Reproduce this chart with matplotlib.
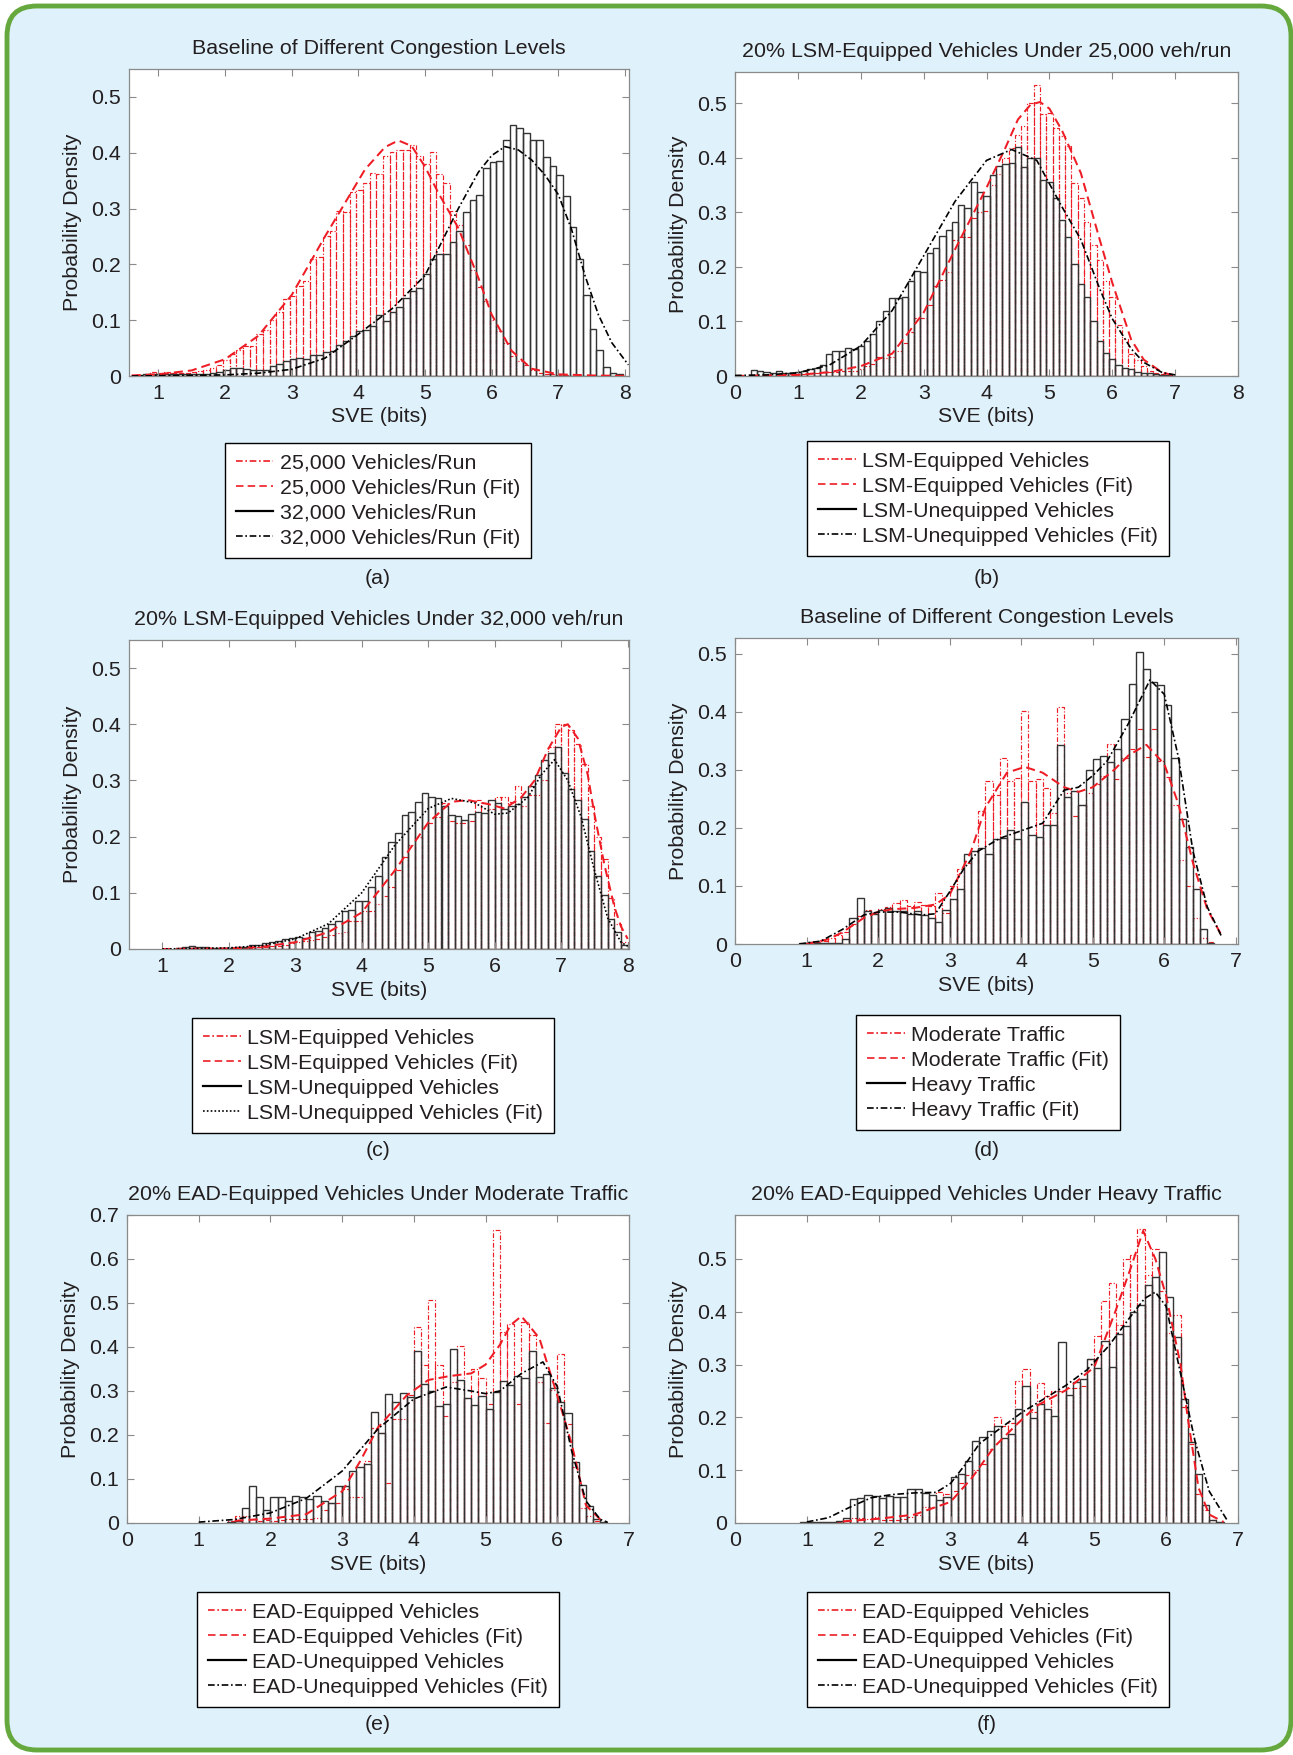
import numpy as np
import matplotlib
matplotlib.use("Agg")
import matplotlib.pyplot as plt
from matplotlib.lines import Line2D
from matplotlib.patches import FancyBboxPatch

plt.rcParams['font.family'] = ['Liberation Sans', 'DejaVu Sans']
plt.rcParams['font.size'] = 15.4

BIN_W = 0.1
FS = 15.4

# ---------------- (a) baseline, 25,000 vs 32,000 veh/run ----------------
a_red_start = 0.67
a_red = [0.002, 0.004, 0.007, 0.006, 0.007, 0.006, 0.005, 0.006, 0.007, 0.009,
         0.011, 0.014, 0.02, 0.028, 0.04, 0.046, 0.053, 0.054, 0.076, 0.082,
         0.1, 0.114, 0.138, 0.144, 0.161, 0.171, 0.209, 0.213, 0.25, 0.259,
         0.296, 0.294, 0.33, 0.333, 0.346, 0.364, 0.362, 0.395, 0.402, 0.405,
         0.405, 0.414, 0.395, 0.38, 0.402, 0.362, 0.345, 0.296, 0.27, 0.235,
         0.19, 0.16, 0.134, 0.1, 0.08, 0.06, 0.035, 0.027, 0.02, 0.01,
         0.006, 0.004, 0.003, 0.002, 0.001]
a_red_fit_x = [0.6, 1.0, 1.5, 2.0, 2.5, 3.0, 3.5, 3.8, 4.1, 4.4, 4.6, 4.8, 5.0, 5.2,
               5.5, 5.8, 6.0, 6.3, 6.6, 7.0, 7.5, 8.05]
a_red_fit_y = [0.001, 0.003, 0.01, 0.03, 0.072, 0.145, 0.25, 0.31, 0.37, 0.41, 0.422,
               0.412, 0.375, 0.328, 0.265, 0.176, 0.11, 0.045, 0.013, 0.003, 0.001, 0.0]
a_blk_start = 0.67
a_blk = [0.002, 0.003, 0.004, 0.004, 0.003, 0.003, 0.004, 0.003, 0.003, 0.004,
         0.004, 0.005, 0.007, 0.011, 0.014, 0.015, 0.012, 0.011, 0.011, 0.011,
         0.018, 0.022, 0.027, 0.03, 0.033, 0.03, 0.037, 0.037, 0.043, 0.045,
         0.055, 0.062, 0.071, 0.08, 0.082, 0.09, 0.11, 0.098, 0.115, 0.123,
         0.14, 0.153, 0.158, 0.183, 0.21, 0.218, 0.218, 0.24, 0.26, 0.293,
         0.315, 0.325, 0.372, 0.383, 0.385, 0.422, 0.45, 0.444, 0.435, 0.423,
         0.423, 0.393, 0.377, 0.36, 0.322, 0.267, 0.21, 0.145, 0.085, 0.047,
         0.017, 0.006, 0.003]
a_blk_fit_x = [0.6, 1.5, 2.0, 2.5, 3.0, 3.5, 4.0, 4.5, 5.0, 5.5, 5.8, 6.0, 6.2, 6.4,
               6.6, 6.8, 7.0, 7.2, 7.4, 7.6, 7.8, 8.05]
a_blk_fit_y = [0.0, 0.001, 0.002, 0.005, 0.012, 0.032, 0.075, 0.12, 0.18, 0.30, 0.365,
               0.395, 0.411, 0.405, 0.387, 0.36, 0.325, 0.262, 0.18, 0.11, 0.06, 0.02]

# ---------------- (b) 20% LSM, 25,000 veh/run ----------------
b_red_start = 0.65
b_red = [0.002, 0.003, 0.004, 0.003, 0.004, 0.005, 0.006, 0.007, 0.008, 0.008,
         0.01, 0.009, 0.01, 0.012, 0.018, 0.022, 0.035, 0.033, 0.034, 0.045,
         0.06, 0.08, 0.107, 0.107, 0.13, 0.165, 0.175, 0.19, 0.25, 0.255,
         0.255, 0.29, 0.30, 0.302, 0.35, 0.37, 0.40, 0.418, 0.442, 0.458,
         0.50, 0.534, 0.48, 0.482, 0.454, 0.44, 0.422, 0.354, 0.327, 0.283,
         0.24, 0.213, 0.174, 0.145, 0.093, 0.067, 0.04, 0.03, 0.018, 0.009,
         0.005, 0.003, 0.001]
b_red_fit_x = [0.0, 1.0, 1.5, 2.0, 2.5, 3.0, 3.5, 4.0, 4.3, 4.5, 4.7, 4.85, 5.0, 5.2,
               5.5, 5.8, 6.0, 6.3, 6.5, 6.8, 7.0]
b_red_fit_y = [0.0, 0.002, 0.007, 0.018, 0.041, 0.116, 0.232, 0.345, 0.418, 0.47, 0.497,
               0.502, 0.49, 0.45, 0.372, 0.25, 0.171, 0.067, 0.03, 0.006, 0.001]
b_blk_start = 0.25
b_blk = [0.011, 0.009, 0.007, 0.006, 0.009, 0.005, 0.005, 0.007, 0.01, 0.013,
         0.014, 0.02, 0.04, 0.045, 0.045, 0.052, 0.05, 0.055, 0.065, 0.077,
         0.1, 0.12, 0.142, 0.143, 0.145, 0.174, 0.193, 0.19, 0.225, 0.235,
         0.256, 0.268, 0.283, 0.313, 0.308, 0.356, 0.338, 0.33, 0.368, 0.385,
         0.389, 0.391, 0.42, 0.383, 0.399, 0.40, 0.36, 0.355, 0.327, 0.286,
         0.255, 0.205, 0.168, 0.145, 0.1, 0.065, 0.042, 0.032, 0.02, 0.015,
         0.012, 0.008, 0.006, 0.005, 0.003, 0.002, 0.001]
b_blk_fit_x = [0.0, 0.5, 1.0, 1.5, 2.0, 2.5, 3.0, 3.5, 4.0, 4.4, 4.8, 5.2, 5.5, 5.8,
               6.0, 6.3, 6.5, 6.8, 7.0]
b_blk_fit_y = [0.001, 0.002, 0.006, 0.02, 0.055, 0.12, 0.22, 0.32, 0.395, 0.415, 0.395,
               0.31, 0.25, 0.16, 0.105, 0.05, 0.025, 0.006, 0.002]

# ---------------- (c) 20% LSM, 32,000 veh/run ----------------
c_red_start = 2.0
c_red = [0.001, 0.001, 0.002, 0.002, 0.003, 0.004, 0.005, 0.006, 0.008, 0.01,
         0.012, 0.014, 0.016, 0.018, 0.022, 0.025, 0.028, 0.03, 0.05, 0.05,
         0.067, 0.068, 0.08, 0.094, 0.11, 0.14, 0.163, 0.186, 0.2, 0.22,
         0.225, 0.235, 0.26, 0.228, 0.225, 0.225, 0.228, 0.265, 0.26, 0.25,
         0.27, 0.27, 0.262, 0.29, 0.255, 0.275, 0.275, 0.30, 0.36, 0.40,
         0.40, 0.39, 0.365, 0.33, 0.255, 0.2, 0.16, 0.09, 0.045, 0.013]
c_red_fit_x = [1.0, 2.0, 2.5, 3.0, 3.5, 4.0, 4.5, 5.0, 5.35, 5.6, 5.9, 6.15, 6.4, 6.6,
               6.8, 7.0, 7.1, 7.25, 7.4, 7.5, 7.65, 7.8, 7.9, 8.0]
c_red_fit_y = [0.0, 0.001, 0.004, 0.012, 0.03, 0.065, 0.14, 0.225, 0.262, 0.265, 0.258,
               0.25, 0.27, 0.3, 0.355, 0.395, 0.40, 0.375, 0.31, 0.24, 0.15, 0.075,
               0.04, 0.018]
c_blk_start = 1.2
c_blk = [0.002, 0.004, 0.006, 0.003, 0.003, 0.002, 0.002, 0.001, 0.002, 0.003,
         0.004, 0.008, 0.007, 0.01, 0.012, 0.014, 0.017, 0.02, 0.022, 0.02,
         0.03, 0.032, 0.037, 0.045, 0.05, 0.067, 0.07, 0.085, 0.086, 0.11,
         0.13, 0.163, 0.19, 0.207, 0.238, 0.243, 0.262, 0.278, 0.27, 0.268,
         0.255, 0.238, 0.236, 0.229, 0.24, 0.243, 0.242, 0.266, 0.26, 0.25,
         0.255, 0.258, 0.27, 0.29, 0.31, 0.336, 0.348, 0.36, 0.313, 0.284,
         0.265, 0.232, 0.175, 0.13, 0.097, 0.054, 0.03, 0.008]
c_blk_fit_x = [1.0, 2.0, 2.5, 3.0, 3.5, 4.0, 4.5, 5.0, 5.35, 5.7, 6.0, 6.2, 6.5, 6.7,
               6.9, 7.1, 7.3, 7.5, 7.7, 7.9, 8.0]
c_blk_fit_y = [0.0, 0.002, 0.006, 0.018, 0.045, 0.1, 0.185, 0.25, 0.268, 0.26, 0.24,
               0.242, 0.27, 0.31, 0.337, 0.30, 0.235, 0.14, 0.055, 0.012, 0.005]

# ---------------- (d) baseline, moderate vs heavy ----------------
d_red_start = 1.0
d_red = [0.002, 0.004, 0.006, 0.01, 0.015, 0.02, 0.035, 0.048, 0.058, 0.055,
         0.06, 0.063, 0.07, 0.075, 0.065, 0.073, 0.068, 0.065, 0.088, 0.053,
         0.1, 0.13, 0.14, 0.16, 0.229, 0.281, 0.257, 0.32, 0.28, 0.286,
         0.401, 0.281, 0.285, 0.269, 0.225, 0.408, 0.26, 0.22, 0.24, 0.26,
         0.275, 0.29, 0.345, 0.285, 0.32, 0.335, 0.37, 0.322, 0.37, 0.315,
         0.288, 0.24, 0.145, 0.1, 0.045, 0.01, 0.003]
d_red_fit_x = [1.0, 1.3, 1.5, 1.8, 2.0, 2.2, 2.5, 2.8, 3.0, 3.3, 3.5, 3.8, 4.05, 4.3,
               4.6, 4.8, 5.0, 5.3, 5.5, 5.75, 6.0, 6.2, 6.4, 6.6, 6.8]
d_red_fit_y = [0.0, 0.008, 0.02, 0.045, 0.055, 0.06, 0.062, 0.068, 0.085, 0.16, 0.235,
               0.295, 0.305, 0.295, 0.27, 0.262, 0.27, 0.3, 0.325, 0.343, 0.31, 0.24,
               0.14, 0.06, 0.015]
d_blk_start = 0.9
d_blk = [0.002, 0.003, 0.002, 0.001, 0.002, 0.002, 0.008, 0.045, 0.08, 0.057,
         0.052, 0.058, 0.062, 0.057, 0.056, 0.052, 0.057, 0.05, 0.045, 0.038,
         0.058, 0.078, 0.095, 0.155, 0.16, 0.165, 0.155, 0.18, 0.183, 0.197,
         0.18, 0.245, 0.187, 0.185, 0.205, 0.205, 0.343, 0.254, 0.264, 0.239,
         0.3, 0.319, 0.324, 0.314, 0.335, 0.387, 0.447, 0.503, 0.474, 0.451,
         0.446, 0.411, 0.32, 0.216, 0.167, 0.094, 0.026, 0.002]
d_blk_fit_x = [0.9, 1.2, 1.5, 1.8, 2.0, 2.3, 2.6, 2.8, 3.0, 3.2, 3.4, 3.7, 4.0, 4.3,
               4.6, 4.8, 5.0, 5.2, 5.5, 5.8, 6.0, 6.2, 6.4, 6.6, 6.8]
d_blk_fit_y = [0.0, 0.005, 0.025, 0.05, 0.055, 0.055, 0.05, 0.052, 0.09, 0.13, 0.16,
               0.182, 0.195, 0.208, 0.265, 0.27, 0.29, 0.315, 0.38, 0.455, 0.43, 0.32,
               0.16, 0.064, 0.013]

# ---------------- (e) 20% EAD, moderate traffic ----------------
e_red_start = 1.4
e_red = [0.005, 0.015, 0.015, 0.008, 0.005, 0.006, 0.005, 0.006, 0.008, 0.01,
         0.008, 0.008, 0.012, 0.03, 0.045, 0.045, 0.078, 0.06, 0.06, 0.14,
         0.216, 0.205, 0.09, 0.236, 0.236, 0.29, 0.446, 0.358, 0.507, 0.358,
         0.243, 0.32, 0.402, 0.285, 0.35, 0.33, 0.27, 0.665, 0.434, 0.453,
         0.27, 0.457, 0.427, 0.32, 0.228, 0.303, 0.385, 0.226, 0.128, 0.035,
         0.015, 0.005]
e_red_fit_x = [1.5, 2.0, 2.5, 3.0, 3.25, 3.5, 3.9, 4.2, 4.5, 4.8, 5.0, 5.2, 5.35, 5.5,
               5.75, 6.0, 6.2, 6.4, 6.6]
e_red_fit_y = [0.005, 0.01, 0.02, 0.072, 0.14, 0.217, 0.29, 0.325, 0.334, 0.34, 0.36,
               0.405, 0.45, 0.47, 0.42, 0.29, 0.18, 0.04, 0.008]
e_blk_start = 1.4
e_blk = [0.002, 0.005, 0.035, 0.083, 0.058, 0.03, 0.058, 0.06, 0.05, 0.062,
         0.058, 0.055, 0.062, 0.05, 0.045, 0.083, 0.085, 0.118, 0.128, 0.133,
         0.253, 0.205, 0.293, 0.275, 0.295, 0.287, 0.392, 0.316, 0.30, 0.266,
         0.27, 0.396, 0.326, 0.284, 0.268, 0.289, 0.258, 0.297, 0.323, 0.313,
         0.335, 0.33, 0.39, 0.331, 0.339, 0.306, 0.275, 0.249, 0.138, 0.086,
         0.038, 0.008, 0.002]
e_blk_fit_x = [1.0, 1.5, 2.0, 2.5, 3.0, 3.5, 4.0, 4.45, 4.8, 5.0, 5.2, 5.5, 5.8, 6.0,
               6.2, 6.4, 6.6, 6.7]
e_blk_fit_y = [0.002, 0.008, 0.023, 0.056, 0.118, 0.214, 0.282, 0.309, 0.3, 0.294, 0.3,
               0.34, 0.366, 0.31, 0.164, 0.05, 0.008, 0.002]

# ---------------- (f) 20% EAD, heavy traffic ----------------
f_red_start = 1.4
f_red = [0.002, 0.005, 0.01, 0.01, 0.008, 0.012, 0.005, 0.005, 0.005, 0.008,
         0.012, 0.015, 0.03, 0.03, 0.058, 0.055, 0.06, 0.075, 0.09, 0.1,
         0.111, 0.14, 0.2, 0.184, 0.19, 0.268, 0.292, 0.21, 0.265, 0.24,
         0.25, 0.25, 0.255, 0.255, 0.26, 0.31, 0.354, 0.42, 0.455, 0.375,
         0.5, 0.508, 0.557, 0.47, 0.518, 0.44, 0.36, 0.394, 0.22, 0.15,
         0.054, 0.025, 0.005]
f_red_fit_x = [1.5, 2.0, 2.5, 3.0, 3.3, 3.6, 3.9, 4.2, 4.6, 5.0, 5.3, 5.5, 5.68, 5.85,
               6.0, 6.2, 6.3, 6.45, 6.6, 6.8]
f_red_fit_y = [0.003, 0.008, 0.016, 0.04, 0.086, 0.143, 0.184, 0.222, 0.251, 0.295,
               0.403, 0.48, 0.553, 0.5, 0.43, 0.3, 0.2, 0.067, 0.016, 0.002]
f_blk_start = 0.9
f_blk = [0.001, 0.002, 0.001, 0.001, 0.002, 0.003, 0.01, 0.045, 0.048, 0.053,
         0.052, 0.047, 0.052, 0.05, 0.05, 0.065, 0.065, 0.057, 0.053, 0.043,
         0.05, 0.087, 0.093, 0.118, 0.155, 0.162, 0.175, 0.183, 0.16, 0.168,
         0.216, 0.26, 0.198, 0.225, 0.215, 0.203, 0.343, 0.242, 0.267, 0.273,
         0.31, 0.293, 0.345, 0.296, 0.357, 0.373, 0.40, 0.412, 0.45, 0.465,
         0.513, 0.427, 0.353, 0.235, 0.153, 0.092, 0.035, 0.005, 0.001]
f_blk_fit_x = [1.0, 1.3, 1.6, 1.9, 2.2, 2.5, 2.8, 3.0, 3.2, 3.4, 3.7, 4.0, 4.3, 4.6,
               4.9, 5.2, 5.5, 5.7, 5.85, 6.0, 6.2, 6.4, 6.6, 6.85]
f_blk_fit_y = [0.002, 0.01, 0.03, 0.048, 0.054, 0.057, 0.058, 0.075, 0.11, 0.15, 0.18,
               0.21, 0.235, 0.26, 0.29, 0.335, 0.39, 0.425, 0.437, 0.41, 0.283, 0.156,
               0.06, 0.005]

# ---------------- styling ----------------
RED = '#ee1c25'
INK = '#231f20'
BAR = '#333333'
FRAME = '#8a8a8a'
DASHDOT = (0, (4, 1.6, 1, 1.6))
DASHED = (0, (4.5, 2.5))
DOTTED = (0, (1, 1.3))

W, H = 1293, 1755
fig = plt.figure(figsize=(W / 100, H / 100), dpi=100)
fig.patch.set_facecolor('white')
frame = FancyBboxPatch((0.07, 0.05), 12.84, 17.44,
                       boxstyle='round,pad=0,rounding_size=0.3',
                       transform=fig.dpi_scale_trans, facecolor='#dff1fa',
                       edgecolor='#65a83d', linewidth=3.5, zorder=-5)
fig.patches.append(frame)


def draw_hist(ax, start, heights, color, ls, lw):
    lefts = np.round(start + BIN_W * np.arange(len(heights)), 3)
    ax.bar(lefts, heights, width=BIN_W, align='edge', fill=False,
           edgecolor=color, linestyle=ls, linewidth=lw)


panels = [
    dict(box=(129, 69, 629, 376), title='Baseline of Different Congestion Levels',
         xlim=(0.56, 8.06), ylim=(0, 0.55), xt=range(1, 9), yt=[0, .1, .2, .3, .4, .5],
         red=(a_red_start, a_red, a_red_fit_x, a_red_fit_y),
         blk=(a_blk_start, a_blk, a_blk_fit_x, a_blk_fit_y), blk_fit_ls=DASHDOT,
         labels=['25,000 Vehicles/Run', '25,000 Vehicles/Run (Fit)',
                 '32,000 Vehicles/Run', '32,000 Vehicles/Run (Fit)'],
         leg=(378, 443), tag='(a)', tag_xy=(378, 578)),
    dict(box=(735, 72, 1238, 376), title='20% LSM-Equipped Vehicles Under 25,000 veh/run',
         xlim=(0, 8), ylim=(0, 0.557), xt=range(0, 9), yt=[0, .1, .2, .3, .4, .5],
         red=(b_red_start, b_red, b_red_fit_x, b_red_fit_y),
         blk=(b_blk_start, b_blk, b_blk_fit_x, b_blk_fit_y), blk_fit_ls=DASHDOT,
         labels=['LSM-Equipped Vehicles', 'LSM-Equipped Vehicles (Fit)',
                 'LSM-Unequipped Vehicles', 'LSM-Unequipped Vehicles (Fit)'],
         leg=(988, 441), tag='(b)', tag_xy=(987, 578)),
    dict(box=(129, 640, 629, 949), title='20% LSM-Equipped Vehicles Under 32,000 veh/run',
         xlim=(0.5, 8.02), ylim=(0, 0.55), xt=range(1, 9), yt=[0, .1, .2, .3, .4, .5],
         red=(c_red_start, c_red, c_red_fit_x, c_red_fit_y),
         blk=(c_blk_start, c_blk, c_blk_fit_x, c_blk_fit_y), blk_fit_ls=DOTTED,
         labels=['LSM-Equipped Vehicles', 'LSM-Equipped Vehicles (Fit)',
                 'LSM-Unequipped Vehicles', 'LSM-Unequipped Vehicles (Fit)'],
         leg=(373, 1018), tag='(c)', tag_xy=(378, 1151)),
    dict(box=(735, 638, 1238, 944), title='Baseline of Different Congestion Levels',
         xlim=(0, 7.03), ylim=(0, 0.527), xt=range(0, 8), yt=[0, .1, .2, .3, .4, .5],
         red=(d_red_start, d_red, d_red_fit_x, d_red_fit_y),
         blk=(d_blk_start, d_blk, d_blk_fit_x, d_blk_fit_y), blk_fit_ls=DASHDOT,
         labels=['Moderate Traffic', 'Moderate Traffic (Fit)',
                 'Heavy Traffic', 'Heavy Traffic (Fit)'],
         leg=(988, 1015), tag='(d)', tag_xy=(987, 1151)),
    dict(box=(127, 1215, 629, 1523), title='20% EAD-Equipped Vehicles Under Moderate Traffic',
         xlim=(0, 7), ylim=(0, 0.7), xt=range(0, 8), yt=[0, .1, .2, .3, .4, .5, .6, .7],
         red=(e_red_start, e_red, e_red_fit_x, e_red_fit_y),
         blk=(e_blk_start, e_blk, e_blk_fit_x, e_blk_fit_y), blk_fit_ls=DASHDOT,
         labels=['EAD-Equipped Vehicles', 'EAD-Equipped Vehicles (Fit)',
                 'EAD-Unequipped Vehicles', 'EAD-Unequipped Vehicles (Fit)'],
         leg=(378, 1592), tag='(e)', tag_xy=(378, 1724)),
    dict(box=(735, 1215, 1238, 1523), title='20% EAD-Equipped Vehicles Under Heavy Traffic',
         xlim=(0, 7), ylim=(0, 0.583), xt=range(0, 8), yt=[0, .1, .2, .3, .4, .5],
         red=(f_red_start, f_red, f_red_fit_x, f_red_fit_y),
         blk=(f_blk_start, f_blk, f_blk_fit_x, f_blk_fit_y), blk_fit_ls=DASHDOT,
         labels=['EAD-Equipped Vehicles', 'EAD-Equipped Vehicles (Fit)',
                 'EAD-Unequipped Vehicles', 'EAD-Unequipped Vehicles (Fit)'],
         leg=(988, 1592), tag='(f)', tag_xy=(987, 1724)),
]

for p in panels:
    l, t, r, b = p['box']
    ax = fig.add_axes([l / W, 1 - b / H, (r - l) / W, (b - t) / H])
    ax.set_facecolor('white')

    rs, rh, rfx, rfy = p['red']
    bs, bh, bfx, bfy = p['blk']
    draw_hist(ax, rs, rh, RED, DASHDOT, 0.85)
    draw_hist(ax, bs, bh, BAR, '-', 1.0)
    ax.plot(rfx, rfy, color=RED, linestyle=DASHED, linewidth=1.45, zorder=4)
    ax.plot(bfx, bfy, color='black', linestyle=p['blk_fit_ls'], linewidth=1.2, zorder=5)

    ax.set_xlim(*p['xlim'])
    ax.set_ylim(*p['ylim'])
    ax.set_xticks(list(p['xt']))
    ax.set_yticks(p['yt'])
    ax.set_yticklabels([f'{v:g}' for v in p['yt']])
    ax.tick_params(direction='in', length=5, width=0.8, color=FRAME,
                   top=True, right=True, labelsize=FS, labelcolor=INK, pad=6)
    for s in ax.spines.values():
        s.set_color(FRAME)
        s.set_linewidth(0.9)
    ax.set_title(p['title'], fontsize=FS, color=INK, pad=11)
    ax.set_xlabel('SVE (bits)', fontsize=FS, color=INK, labelpad=3)
    ax.set_ylabel('Probability Density', fontsize=FS, color=INK, labelpad=6)

    handles = [Line2D([], [], color=RED, linestyle=DASHDOT, linewidth=1.2),
               Line2D([], [], color=RED, linestyle=DASHED, linewidth=1.2),
               Line2D([], [], color='black', linestyle='-', linewidth=1.6),
               Line2D([], [], color='black', linestyle=p['blk_fit_ls'], linewidth=1.2)]
    cx, ty = p['leg']
    leg = ax.legend(handles, p['labels'], loc='upper center',
                    bbox_to_anchor=(cx / W, 1 - ty / H), bbox_transform=fig.transFigure,
                    fancybox=False, edgecolor='black', framealpha=1, fontsize=FS,
                    handlelength=1.75, handletextpad=0.3, labelspacing=0.28,
                    borderpad=0.5, borderaxespad=0)
    leg.get_frame().set_linewidth(1.0)
    for txt in leg.get_texts():
        txt.set_color(INK)

    tx, tyy = p['tag_xy']
    fig.text(tx / W, 1 - tyy / H, p['tag'], ha='center', va='center',
             fontsize=FS, color=INK)

fig.savefig('out.png', dpi=100, facecolor=fig.get_facecolor())
